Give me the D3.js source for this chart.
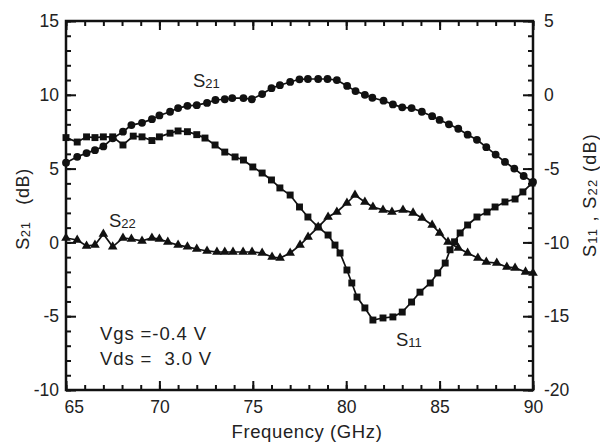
<!DOCTYPE html>
<html>
<head>
<meta charset="utf-8">
<script src="https://cdn.jsdelivr.net/npm/d3@7/dist/d3.min.js"></script>
<style>
html,body{margin:0;padding:0;background:#fff;}
svg text{font-family:"Liberation Sans",Arial,Helvetica,sans-serif;fill:#222;}
</style>
</head>
<body>
<svg id="chart" width="600" height="446"></svg>
<script>
// ---- data ----
const s21Freq = [65.0,65.6,66.1,66.55,67.0,67.5,68.05,68.5,69.07,69.6,70.0,70.57,71.0,71.5,72.0,72.55,73.0,73.5,73.9,74.5,74.95,75.5,76.0,76.45,77.0,77.5,77.95,78.5,79.0,79.5,80.05,80.5,81.0,81.4,82.0,82.5,83.0,83.5,84.05,84.6,85.0,85.5,86.0,86.5,87.0,87.5,88.0,88.5,89.0,89.5,90.0];
const s21Vals = [5.4,5.8,6.05,6.25,6.5,7.05,7.5,7.95,8.1,8.35,8.6,8.85,9.1,9.25,9.3,9.45,9.65,9.7,9.78,9.78,9.7,10.05,10.45,10.65,10.87,11.05,11.07,11.07,11.07,11.0,10.6,10.25,10.0,9.8,9.6,9.35,9.15,9.1,8.85,8.55,8.3,8.0,7.7,7.3,6.95,6.45,5.95,5.45,5.0,4.5,4.1];

const s11Freq = [65.0,65.6,66.1,66.55,67.0,67.5,68.05,68.6,69.07,69.6,70.0,70.57,71.0,71.5,72.0,72.44,72.98,73.5,74.05,74.5,75.0,75.5,76.0,76.45,77.0,77.5,77.95,78.5,79.03,79.4,79.67,80.04,80.3,80.58,81.0,81.43,81.97,82.5,83.0,83.5,83.95,84.5,84.9,85.3,85.56,85.8,86.1,86.5,87.0,87.54,87.97,88.5,89.04,89.46,89.95];
const s11Vals = [-2.9,-3.2,-2.85,-2.9,-2.85,-2.85,-3.4,-2.8,-2.85,-3.1,-2.85,-2.6,-2.45,-2.5,-2.7,-2.93,-3.4,-3.88,-4.21,-4.42,-4.89,-5.3,-5.77,-6.31,-6.79,-7.6,-8.28,-8.96,-9.5,-10.18,-10.72,-11.87,-12.75,-13.7,-14.44,-15.26,-15.12,-15.05,-14.72,-14.04,-13.37,-12.75,-12.07,-11.4,-10.5,-9.96,-9.36,-8.82,-8.28,-7.94,-7.6,-7.26,-7.06,-6.58,-5.98];

const s22Freq = [65.0,65.6,66.1,66.55,67.0,67.5,68.05,68.5,69.07,69.6,70.0,70.45,71.0,71.5,72.0,72.55,73.08,73.5,73.94,74.48,74.96,75.5,76.03,76.46,77.0,77.53,77.96,78.5,79.03,79.5,80.04,80.47,81.0,81.43,81.97,82.45,83.04,83.58,84.06,84.6,85.0,85.45,86.0,86.5,87.05,87.5,88.06,88.6,89.04,89.6,90.0];
const s22Vals = [-9.7,-9.84,-10.24,-10.18,-9.43,-10.3,-9.7,-9.77,-9.9,-9.7,-9.77,-9.97,-10.18,-10.3,-10.45,-10.58,-10.65,-10.65,-10.65,-10.65,-10.65,-10.72,-10.99,-11.06,-10.72,-10.18,-9.63,-8.96,-8.28,-7.94,-7.33,-6.79,-7.26,-7.6,-7.8,-7.94,-7.8,-8.0,-8.35,-8.82,-9.36,-9.97,-10.38,-10.72,-11.06,-11.33,-11.4,-11.67,-11.73,-12.0,-12.07];

const xTicks = [65,70,75,80,85,90];
const leftTicks = [-10,-5,0,5,10,15];
const rightTicks = [-20,-15,-10,-5,0,5];

// ---- layout ----
const svg = d3.select("#chart");
const L = 66, R = 533, T = 21, B = 390;

const x = d3.scaleLinear().domain([65,90]).range([L,R]);
const yL = d3.scaleLinear().domain([-10,15]).range([B,T]);
const yR = d3.scaleLinear().domain([-20,5]).range([B,T]);

const font = "17.5px";
const fmt = d => String(d);

function styleAxis(g){
  g.select(".domain").remove();
  g.selectAll(".tick line").attr("stroke","#111").attr("stroke-width",2);
  g.selectAll(".tick text").attr("font-size",font).attr("fill","#222")
    .style("font-family",'"Liberation Sans",Arial,sans-serif');
}

const minorX = d3.range(65,91,1);
const minorLeft = d3.range(-10,16,1);
const minorRight = d3.range(-20,6,1);

// bottom
svg.append("g").attr("transform",`translate(0,${B})`)
  .call(d3.axisBottom(x).tickValues(minorX).tickSize(-5).tickFormat("")).call(styleAxis);
const bx = svg.append("g").attr("transform",`translate(0,${B})`)
  .call(d3.axisBottom(x).tickValues(xTicks).tickSize(-9).tickPadding(11).tickFormat(fmt)).call(styleAxis);
bx.selectAll(".tick text").filter(d=>d===65).attr("text-anchor","start").attr("dx",-2);
// top
svg.append("g").attr("transform",`translate(0,${T})`)
  .call(d3.axisTop(x).tickValues(minorX).tickSize(-5).tickFormat("")).call(styleAxis);
svg.append("g").attr("transform",`translate(0,${T})`)
  .call(d3.axisTop(x).tickValues(xTicks).tickSize(-9).tickFormat("")).call(styleAxis);
// left
svg.append("g").attr("transform",`translate(${L},0)`)
  .call(d3.axisLeft(yL).tickValues(minorLeft).tickSize(-5).tickFormat("")).call(styleAxis);
svg.append("g").attr("transform",`translate(${L},0)`)
  .call(d3.axisLeft(yL).tickValues(leftTicks).tickSize(-10).tickPadding(7).tickFormat(fmt)).call(styleAxis);
// right
svg.append("g").attr("transform",`translate(${R},0)`)
  .call(d3.axisRight(yR).tickValues(minorRight).tickSize(-5).tickFormat("")).call(styleAxis);
svg.append("g").attr("transform",`translate(${R},0)`)
  .call(d3.axisRight(yR).tickValues(rightTicks).tickSize(-10).tickPadding(11).tickFormat(fmt)).call(styleAxis);

// frame
svg.append("rect").attr("x",L).attr("y",T).attr("width",R-L).attr("height",B-T)
  .attr("fill","none").attr("stroke","#111").attr("stroke-width",2.5);

// ---- series ----
function series(freq, vals, yScale, symbol, size){
  const pts = freq.map((f,i)=>[f,vals[i]]);
  const line = d3.line().x(d=>x(d[0])).y(d=>yScale(d[1]));
  svg.append("path").datum(pts).attr("d",line).attr("fill","none")
    .attr("stroke","#111").attr("stroke-width",1.7);
  svg.append("g").selectAll("path").data(pts).join("path")
    .attr("transform",d=>`translate(${x(d[0])},${yScale(d[1])})`)
    .attr("d",d3.symbol().type(symbol).size(size))
    .attr("fill","#111");
}
series(s21Freq, s21Vals, yL, d3.symbolCircle, 48);
series(s11Freq, s11Vals, yR, d3.symbolSquare, 48);
series(s22Freq, s22Vals, yR, d3.symbolTriangle, 40);

// ---- labels ----
function sLabel(px, py, sub){
  const t = svg.append("text").attr("x",px).attr("y",py).attr("font-size","18.5px");
  t.append("tspan").text("S");
  t.append("tspan").text(sub).attr("font-size","13px").attr("dy",1);
  return t;
}
sLabel(193,87,"21");
sLabel(109,227,"22");
sLabel(396,346,"11");

svg.append("text").attr("x",100).attr("y",340).attr("font-size","18.5px").attr("letter-spacing","0.9px")
  .style("white-space","pre").text("Vgs =-0.4 V");
svg.append("text").attr("x",100).attr("y",365).attr("font-size","18.5px").attr("letter-spacing","0.9px")
  .style("white-space","pre").text("Vds =  3.0 V");

svg.append("text").attr("x",307).attr("y",438).attr("text-anchor","middle").attr("font-size","18.5px")
  .attr("letter-spacing","0.6px").text("Frequency (GHz)");

// left axis title
const lt = svg.append("text").attr("transform","translate(29,209) rotate(-90)")
  .attr("text-anchor","middle").attr("font-size","18px").attr("letter-spacing","0.6px").style("white-space","pre");
lt.append("tspan").text("S");
lt.append("tspan").text("21").attr("font-size","13px").attr("dy",1);
lt.append("tspan").text("   (dB)").attr("dy",-1);

// right axis title
const rt = svg.append("text").attr("transform","translate(596,195) rotate(-90)")
  .attr("text-anchor","middle").attr("font-size","18px").attr("letter-spacing","1.3px").style("white-space","pre");
rt.append("tspan").text("S");
rt.append("tspan").text("11").attr("font-size","13px").attr("dy",1);
rt.append("tspan").text(" , S").attr("dy",-1);
rt.append("tspan").text("22").attr("font-size","13px").attr("dy",1);
rt.append("tspan").text(" (dB)").attr("dy",-1);
</script>
</body>
</html>
